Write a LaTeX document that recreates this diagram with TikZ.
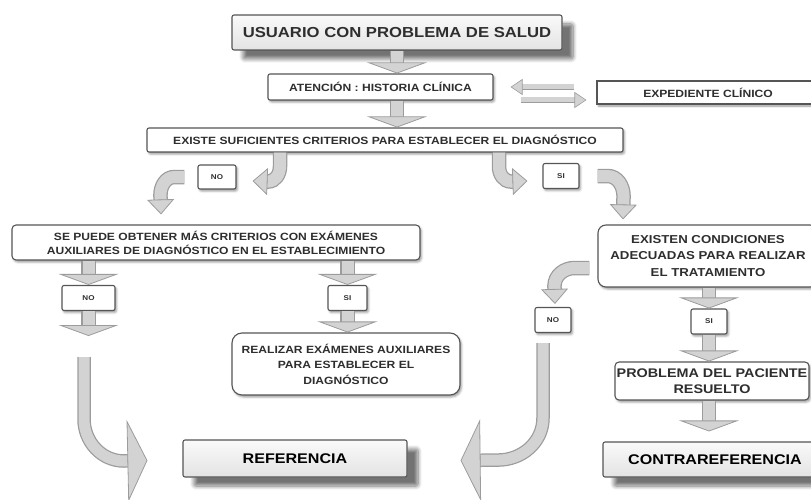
\documentclass[tikz,border=0pt]{standalone}
\usepackage{fontspec}
\setmainfont{Liberation Sans}[FakeStretch=1.15]
\usetikzlibrary{arrows.meta,shadows.blur}
\definecolor{ink}{HTML}{2E2E2E}
\definecolor{frame}{HTML}{555555}
\definecolor{shaft}{HTML}{D3D3D3}
\definecolor{shaftedge}{HTML}{9C9C9C}

\begin{document}
\begin{tikzpicture}[x=1pt,y=-1pt,font=\fontsize{10.5}{14}\selectfont\bfseries,
  box/.style={draw=frame,line width=1.1pt,fill=white,text=ink,inner sep=0pt,
    align=center,rounded corners=2pt},
  lift/.style={blur shadow={shadow xshift=1.5pt,shadow yshift=-2pt,
    shadow opacity=40,shadow blur steps=3}},
  slab/.style={box,top color=gray!4,bottom color=gray!22,text=black,
    font=\fontsize{14}{16}\selectfont\bfseries,
    blur shadow={shadow xshift=11pt,shadow yshift=-9pt,shadow opacity=55,
    shadow blur steps=8,shadow blur radius=4pt}},
  tag/.style={box,lift,font=\fontsize{7}{8}\selectfont\bfseries,
    minimum width=36pt,minimum height=25pt},
  pipe/.style n args={3}{draw=shaft,line width=#1,
    preaction={draw=shaftedge,line width=#2,arrows=-,shorten >=#3}},
  drop/.style={pipe={12pt}{14.5pt}{3pt},
    -{Triangle[length=11pt,width=60pt,fill=shaft,color=shaftedge,line width=0.8pt]}},
  slimarrow/.style={pipe={5pt}{6.5pt}{5pt},
    -{Triangle[length=12pt,width=16pt,fill=shaft,color=shaftedge,line width=0.6pt]}},
  hookarrow/.style={pipe={12pt}{14.5pt}{8pt},
    -{Triangle[length=15pt,width=27pt,fill=shaft,color=shaftedge,line width=0.8pt]}},
  bigarrow/.style={pipe={11pt}{13.5pt}{4pt},
    -{Triangle[length=20pt,width=82pt,fill=shaft,color=shaftedge,line width=0.8pt]}}]
\useasboundingbox (0,0) rectangle (811,500);

\node[slab,minimum width=330pt,minimum height=35pt,text=ink,
  font=\fontsize{14.5}{16}\selectfont\bfseries] (usu) at (397,32.5) {USUARIO CON PROBLEMA DE SALUD};
\node[box,lift,minimum width=225pt,minimum height=26pt] (aten) at (380.5,87) {ATENCIÓN : HISTORIA CLÍNICA};
\node[box,lift,minimum width=222pt,minimum height=23pt,rounded corners=0pt] (exped) at (708,92.5) {EXPEDIENTE CLÍNICO};
\node[box,lift,minimum width=476pt,minimum height=24pt] (crit) at (385,140)
  {EXISTE SUFICIENTES CRITERIOS PARA ESTABLECER EL DIAGNÓSTICO};
\node[tag,minimum width=38pt,minimum height=24pt] (no1) at (217,177) {NO};
\node[tag] (si1) at (561,176) {SI};
\node[box,lift,minimum width=408pt,minimum height=35pt,rounded corners=4pt] (aux) at (216,242.5)
  {SE PUEDE OBTENER MÁS CRITERIOS CON EXÁMENES\\AUXILIARES DE DIAGNÓSTICO EN EL ESTABLECIMIENTO};
\node[tag,minimum width=53pt] (no2) at (88.5,298) {NO};
\node[tag,minimum width=39pt] (si2) at (347.5,298) {SI};
\node[box,lift,minimum width=228pt,minimum height=62pt,rounded corners=10pt,
  font=\fontsize{10.5}{15.5}\selectfont\bfseries] (exam) at (346,364)
  {REALIZAR EXÁMENES AUXILIARES\\PARA ESTABLECER EL\\DIAGNÓSTICO};
\node[box,lift,minimum width=220pt,minimum height=62pt,rounded corners=8pt,
  font=\fontsize{11.5}{16.5}\selectfont\bfseries] (cond) at (708,256)
  {EXISTEN CONDICIONES\\ADECUADAS PARA REALIZAR\\EL TRATAMIENTO};
\node[tag] (no3) at (553,320) {NO};
\node[tag] (si3) at (709,321.5) {SI};
\node[box,lift,minimum width=194pt,minimum height=38pt,rounded corners=4pt,
  font=\fontsize{12.5}{16}\selectfont\bfseries] (solved) at (712,381) {PROBLEMA DEL PACIENTE\\RESUELTO};
\node[slab,minimum width=224pt,minimum height=37pt] (ref) at (295,458.5) {REFERENCIA};
\node[slab,minimum width=224pt,minimum height=35pt] (cref) at (715,459.5) {CONTRAREFERENCIA};

\coordinate (noexit) at (88.5,336);
\coordinate (crefin) at ([yshift=10pt]cref.north);

\draw[drop] (usu.south) -- (usu.south |- aten.north);
\draw[drop] (aten.south -| usu.south) -- (crit.north -| usu.south);
\draw[slimarrow] ([xshift=-22pt,yshift=5.5pt]exped.west) -- ([xshift=17pt]aten.east);
\draw[slimarrow] ([xshift=27pt,yshift=-13pt]aten.east) -- ([xshift=-10pt,yshift=-7.5pt]exped.west);

\draw[hookarrow] ([xshift=-105pt]crit.south) -- ++(0,14) to[out=-90,in=0] ++(-12,15)
  -- ([xshift=16pt,yshift=-4pt]no1.east);
\draw[hookarrow] ([xshift=114pt]crit.south) -- ++(0,14) to[out=-90,in=180] ++(12,15)
  -- ([xshift=-15pt,yshift=-5pt]si1.west);
\draw[hookarrow] ([xshift=-13pt]no1.west) -- ++(-10,0) to[out=180,in=90] ++(-14,18)
  -- ([xshift=-55pt,yshift=10pt]aux.north);
\draw[hookarrow] ([xshift=18pt]si1.east) -- ++(10,0) to[out=0,in=90] ++(16,20)
  -- ([xshift=-85pt,yshift=5pt]cond.north);
\draw[hookarrow] ([xshift=-8pt,yshift=-12pt]cond.west) -- ++(-15,0) to[out=180,in=90] ++(-20,18)
  -- ([xshift=2pt,yshift=3pt]no3.north);

\draw[drop] (aux.south -| no2.north) -- (no2.north);
\draw[drop] (no2.south) -- (noexit);
\draw[drop] (aux.south -| si2.north) -- (si2.north);
\draw[drop] (si2.south) -- (si2.south |- exam.north);
\draw[drop] (cond.south -| si3.north) -- (si3.north);
\draw[drop] (si3.south) -- (si3.south |- solved.north);
\draw[drop] (solved.south -| si3.south) -- (crefin -| si3.south);

\draw[bigarrow] ([xshift=-4.5pt,yshift=-21pt]noexit) -- ++(0,62) to[out=-90,in=180] ++(40,42)
  -- ([xshift=-35pt,yshift=-2pt]ref.west);
\draw[bigarrow] ([xshift=-10pt,yshift=-10pt]no3.south) -- ++(0,75) to[out=-90,in=0] ++(-45,42)
  -- ([xshift=53pt,yshift=-2pt]ref.east);
\end{tikzpicture}
\end{document}
